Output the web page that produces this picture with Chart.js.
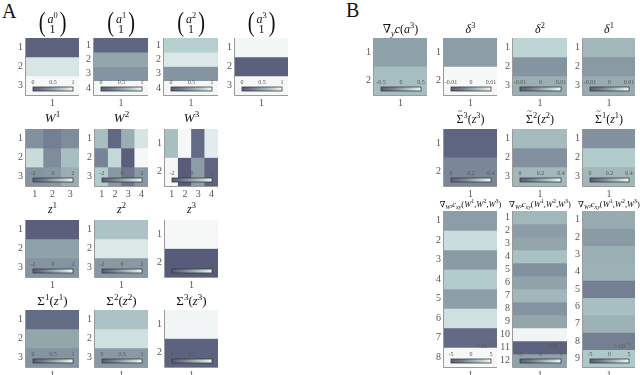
<!DOCTYPE html>
<html><head><meta charset="utf-8">
<script src="https://cdn.jsdelivr.net/npm/chart.js@4"></script>
<style>
body{margin:0;background:#fff;width:640px;height:375px;position:relative;overflow:hidden}
canvas{position:absolute}
.lbl{position:absolute;font:20px "Liberation Serif",serif;color:#111;line-height:20px}
</style></head><body>
<div class="lbl" style="left:2px;top:1px">A</div>
<div class="lbl" style="left:346px;top:0px">B</div>
<script>
// ---------- data ----------
const a0 = [0.05, 0.88, 1];
const a1 = [0.08, 0.5, 0.4, 1];
const a2 = [0.75, 0.9, 0.4, 1];
const a3 = [0.99, 0.03, 1];
const W1 = [[-0.5, -0.9, -0.6], [1.3, -0.6, 0.6], [-0.4, -0.3, 0.2]];
const W2 = [[0.6, -1.6, 0.2, 1.5], [-0.8, 1.2, -1.9, 2.2], [0.9, -0.3, -1.1, -0.3]];
const W3 = [[0.6, 2.0, -1.5, 1.7], [2.2, -2.0, -0.2, -1.7]];
const z1 = [-1.9, -0.1, -0.4];
const z2 = [0.7, 1.6, -0.3];
const z3 = [3.0, -2.2];
const S1 = [0.13, 0.5, 0.4];
const S2 = [0.67, 0.85, 0.43];
const S3 = [0.98, 0.05];
const gy = [-0.03, 0.14];
const d3 = [-0.001, 0.012];
const d2 = [0.0056, -0.002, 0.001];
const d1 = [0.002, -0.0014, 0.0006];
const St3 = [0.03, 0.13];
const St2 = [0.25, 0.15, 0.24];
const St1 = [0.15, 0.29, 0.24];
const gW3 = [-0.5e-3, 3.3e-3, -0.7e-3, 2.2e-3, -0.4e-3, 3.5e-3, -3.8e-3, 5.5e-3];
const gW2 = [1e-3, -0.5e-3, 0, 1.6e-3, -1.2e-3, -0.2e-3, 1e-3, -1e-3, 0, 4.8e-3, -4.5e-3, -0.3e-3];
const gW1 = [0.3e-3, -0.6e-3, 0.6e-3, 0.7e-3, -2.2e-3, 1.5e-3, 0.7e-3, -2.2e-3, 2e-3];

const cbA = ['0', '0.5', '1'];
const cbW = ['-2', '0', '2'];
const cbGy = ['-0.5', '0', '0.5'];
const cbD = ['-0.01', '0', '0.01'];
const cbSt = ['0', '0.2', '0.4'];
const cbG = ['-5', '0', '5'];

// ---------- colormap ----------
const STOPS = [[0, [88, 92, 122]], [0.25, [112, 122, 145]], [0.5, [147, 166, 172]], [0.75, [182, 208, 208]], [1, [246, 248, 248]]];
function cmap(t) {
  t = Math.max(0, Math.min(1, t));
  for (let i = 1; i < STOPS.length; i++) {
    if (t <= STOPS[i][0]) {
      const [t0, c0] = STOPS[i - 1], [t1, c1] = STOPS[i];
      const f = (t - t0) / (t1 - t0);
      return 'rgb(' + c0.map((c, k) => Math.round(c + (c1[k] - c) * f)).join(',') + ')';
    }
  }
  return 'rgb(246,248,248)';
}

const SERIF = '"Liberation Serif","DejaVu Serif",serif';
const col = v => (Array.isArray(v[0]) ? v : v.map(x => [x]));

// ---------- rich text for titles ----------
function drawRich(ctx, segs, cx, base, size, maxW) {
  const parts = segs.map(s => {
    const fs = (s.sup || s.sub) ? size * 0.7 : size;
    const font = (s.it ? 'italic ' : '') + fs + 'px ' + SERIF;
    ctx.font = font;
    return {s, font, w: ctx.measureText(s.t).width};
  });
  const total = parts.reduce((a, p) => a + p.w, 0);
  const sx = (maxW && total > maxW) ? maxW / total : 1;
  ctx.save();
  ctx.translate(cx, base);
  ctx.scale(sx, 1);
  let x = -total / 2;
  ctx.fillStyle = '#111'; ctx.textAlign = 'left'; ctx.textBaseline = 'alphabetic';
  parts.forEach(p => {
    const dy = p.s.sup ? -size * 0.42 : p.s.sub ? size * 0.25 : 0;
    ctx.font = p.font;
    ctx.fillText(p.s.t, x, dy);
    if (p.s.tilde) {
      ctx.font = (size * 0.7) + 'px ' + SERIF;
      ctx.textAlign = 'center';
      ctx.fillText('~', x + p.w / 2, -size * 0.72);
      ctx.textAlign = 'left';
    }
    x += p.w;
  });
  ctx.restore();
}
const I = t => ({t, it: 1});
const R = t => ({t});
const P = t => ({t, sup: 1});
const Bsub = (t, it) => ({t, sub: 1, it});

const titleW = n => [I('W'), P(n)];
const titleZ = n => [I('z'), P(n)];
const titleS = n => [R('Σ'), P(n), R('('), I('z'), P(n), R(')')];
const titleSt = n => [{t: 'Σ', tilde: 1}, P(n), R('('), I('z'), P(n), R(')')];
const titleG = n => [R('∇'), Bsub('W' + n, 1), I('c'), Bsub('xy', 1), R('('), I('W'), P('1'), R(','), I('W'), P('2'), R(','), I('W'), P('3'), R(')')];

const panels = [
  {data: a0, L: 26, R: 79, T: 38, B: 95, range: [0, 1], cb: cbA, vec: '0'},
  {data: a1, L: 94, R: 148, T: 38, B: 95, range: [0, 1], cb: cbA, vec: '1'},
  {data: a2, L: 164, R: 218, T: 38, B: 95, range: [0, 1], cb: cbA, vec: '2'},
  {data: a3, L: 235, R: 288, T: 38, B: 95, range: [0, 1], cb: cbA, vec: '3'},
  {data: W1, L: 26, R: 79, T: 129, B: 186, range: [-2, 2], cb: cbW, title: titleW('1'), ty: 122, ts: 13},
  {data: W2, L: 95, R: 148, T: 129, B: 186, range: [-2, 2], cb: cbW, title: titleW('2'), ty: 122, ts: 13},
  {data: W3, L: 165, R: 218, T: 129, B: 186, range: [-2, 2], cb: cbW, title: titleW('3'), ty: 122, ts: 13},
  {data: z1, L: 26, R: 79, T: 220, B: 277, range: [-2, 2], cb: cbW, title: titleZ('1'), ty: 213, ts: 12},
  {data: z2, L: 95, R: 148, T: 220, B: 277, range: [-2, 2], cb: cbW, title: titleZ('2'), ty: 213, ts: 12},
  {data: z3, L: 165, R: 218, T: 220, B: 277, range: [-2, 2], cb: cbW, title: titleZ('3'), ty: 213, ts: 12},
  {data: S1, L: 26, R: 79, T: 310, B: 367, range: [0, 1], cb: cbA, title: titleS('1'), ty: 305, ts: 13},
  {data: S2, L: 95, R: 148, T: 310, B: 367, range: [0, 1], cb: cbA, title: titleS('2'), ty: 305, ts: 13},
  {data: S3, L: 165, R: 218, T: 310, B: 367, range: [0, 1], cb: cbA, title: titleS('3'), ty: 305, ts: 13},
  {data: gy, L: 374, R: 427, T: 38, B: 95, range: [-0.5, 0.5], cb: cbGy, title: [R('∇'), Bsub('y', 1), I('c'), R('('), I('a'), P('3'), R(')')], ty: 33, ts: 12},
  {data: d3, L: 444, R: 497, T: 38, B: 95, range: [-0.01, 0.01], cb: cbD, title: [I('δ'), P('3')], ty: 33, ts: 12},
  {data: d2, L: 513, R: 567, T: 38, B: 95, range: [-0.01, 0.01], cb: cbD, title: [I('δ'), P('2')], ty: 33, ts: 12},
  {data: d1, L: 583, R: 635, T: 38, B: 95, range: [-0.01, 0.01], cb: cbD, title: [I('δ'), P('1')], ty: 33, ts: 12},
  {data: St3, L: 444, R: 497, T: 129, B: 186, range: [0, 0.4], cb: cbSt, title: titleSt('3'), ty: 123, ts: 12},
  {data: St2, L: 513, R: 567, T: 129, B: 186, range: [0, 0.4], cb: cbSt, title: titleSt('2'), ty: 123, ts: 12},
  {data: St1, L: 583, R: 635, T: 129, B: 186, range: [0, 0.4], cb: cbSt, title: titleSt('1'), ty: 123, ts: 12},
  {data: gW3, L: 444, R: 497, T: 211, B: 367, range: [-5e-3, 5e-3], cb: cbG, exp: true, title: titleG('³'), ty: 207, ts: 8.5, tw: 64},
  {data: gW2, L: 513, R: 567, T: 211, B: 367, range: [-5e-3, 5e-3], cb: cbG, exp: true, title: titleG('²'), ty: 207, ts: 8.5, tw: 64},
  {data: gW1, L: 583, R: 635, T: 211, B: 367, range: [-5e-3, 5e-3], cb: cbG, exp: true, title: titleG('¹'), ty: 207, ts: 8.5, tw: 64}
];

const padL = 16, padR = 8, titleH = 36, axH = 14;
const tickFont = {family: SERIF, size: 10};

const decor = {
  id: 'decor',
  afterDraw(chart) {
    const p = chart.options.plugins.decor.p;
    const ctx = chart.ctx, ca = chart.chartArea;
    ctx.save();
    // axis lines
    ctx.strokeStyle = '#9a9a9a'; ctx.lineWidth = 1;
    ctx.beginPath();
    ctx.moveTo(ca.left - 0.5, ca.top); ctx.lineTo(ca.left - 0.5, ca.bottom + 0.5); ctx.lineTo(ca.right, ca.bottom + 0.5);
    ctx.stroke();
    // colorbar
    const x0 = ca.left + 7, x1 = ca.right - 6, y0 = ca.bottom - 8, y1 = ca.bottom - 4;
    const g = ctx.createLinearGradient(x0, 0, x1, 0);
    for (let i = 0; i <= 10; i++) g.addColorStop(i / 10, cmap(i / 10));
    ctx.fillStyle = g; ctx.fillRect(x0, y0, x1 - x0, y1 - y0);
    ctx.strokeStyle = '#3a3a3a'; ctx.lineWidth = 0.8; ctx.strokeRect(x0, y0, x1 - x0, y1 - y0);
    ctx.fillStyle = '#555'; ctx.font = '6px ' + SERIF; ctx.textAlign = 'center'; ctx.textBaseline = 'alphabetic';
    [x0, (x0 + x1) / 2, x1].forEach((x, i) => ctx.fillText(p.cb[i], x, y0 - 3));
    if (p.exp) {
      ctx.textAlign = 'right'; ctx.font = '7px ' + SERIF;
      ctx.fillText('×10', ca.right - 10, ca.bottom - 19);
      ctx.font = '5px ' + SERIF; ctx.textAlign = 'left';
      ctx.fillText('−3', ca.right - 10, ca.bottom - 22);
    }
    // title
    const cx = (ca.left + ca.right) / 2;
    const off = p.T - titleH;
    if (p.vec) {
      ctx.fillStyle = '#111';
      ctx.font = '27px ' + SERIF; ctx.textAlign = 'center';
      [[-10.5, '('], [10.5, ')']].forEach(([dx, ch]) => {
        ctx.save(); ctx.translate(cx + dx, 31 - off); ctx.scale(0.75, 1); ctx.fillText(ch, 0, 0); ctx.restore();
      });
      drawRich(ctx, [I('a'), P(p.vec)], cx, 23 - off, 12);
      drawRich(ctx, [R('1')], cx, 33 - off, 12);
    } else {
      drawRich(ctx, p.title, cx, p.ty - off, p.ts, p.tw);
    }
    ctx.restore();
  }
};

panels.forEach(p => {
  const m = col(p.data);
  const nr = m.length, nc = m[0].length;
  const rowsArr = m.map((_, i) => i + 1);
  const cv = document.createElement('canvas');
  const w = p.R - p.L + padL + padR, h = p.B - p.T + titleH + axH;
  cv.width = w; cv.height = h;
  cv.style.width = w + 'px'; cv.style.height = h + 'px';
  cv.style.left = (p.L - padL) + 'px'; cv.style.top = (p.T - titleH) + 'px';
  document.body.appendChild(cv);
  const datasets = m.map((row, r) => ({
    data: row.map(() => [r + 0.5, r + 1.5]),
    backgroundColor: row.map(v => cmap((v - p.range[0]) / (p.range[1] - p.range[0]))),
    borderWidth: 0, barPercentage: 1, categoryPercentage: 1, grouped: false
  }));
  new Chart(cv, {
    type: 'bar',
    data: {labels: Array.from({length: nc}, (_, i) => String(i + 1)), datasets},
    options: {
      responsive: false, animation: false, devicePixelRatio: 1,
      layout: {padding: {top: titleH, left: 0, right: padR, bottom: 0}},
      plugins: {legend: {display: false}, title: {display: false}, tooltip: {enabled: false}, decor: {p}},
      scales: {
        x: {
          type: 'category', offset: true, grid: {display: false, drawTicks: false}, border: {display: false},
          ticks: {font: tickFont, color: '#555', padding: 2, maxRotation: 0, autoSkip: false},
          afterFit(s) { s.height = axH; s.paddingLeft = 0; s.paddingRight = 0; }
        },
        y: {
          type: 'linear', reverse: true, min: 0.5, max: nr + 0.5,
          grid: {display: false, drawTicks: false}, border: {display: false},
          afterBuildTicks(s) { s.ticks = rowsArr.map(v => ({value: v})); },
          ticks: {font: tickFont, color: '#555', padding: 3, autoSkip: false, callback: v => String(v)},
          afterFit(s) { s.width = padL; s.paddingTop = 0; s.paddingBottom = 0; }
        }
      }
    },
    plugins: [decor]
  });
});
</script>
</body></html>
